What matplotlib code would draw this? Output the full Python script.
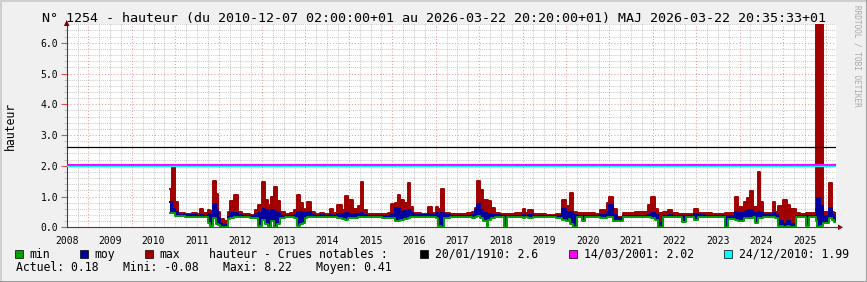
import numpy as np
import matplotlib
matplotlib.use('Agg')
import matplotlib.pyplot as plt
from matplotlib.patches import Rectangle, Polygon
from matplotlib.lines import Line2D
from matplotlib.ticker import MultipleLocator, FormatStrFormatter

# time as decimal years (start of each step), heights in m
t = [2010.89, 2010.93, 2011.00, 2011.07, 2011.23, 2011.39, 2011.51, 2011.58, 2011.65, 2011.76,
     2011.81, 2011.88, 2011.93, 2011.99, 2012.04, 2012.13, 2012.22, 2012.27, 2012.36, 2012.45,
     2012.54, 2012.73, 2012.84, 2012.91, 2013.00, 2013.07, 2013.14, 2013.21, 2013.28, 2013.35,
     2013.42, 2013.53, 2013.65, 2013.74, 2013.81, 2013.88, 2013.95, 2014.00, 2014.04, 2014.13,
     2014.23, 2014.34, 2014.43, 2014.57, 2014.64, 2014.73, 2014.85, 2014.92, 2014.99, 2015.10,
     2015.22, 2015.29, 2015.33, 2015.42, 2015.61, 2015.77, 2015.91, 2015.98, 2016.07, 2016.12,
     2016.18, 2016.28, 2016.35, 2016.41, 2016.48, 2016.65, 2016.83, 2016.92, 2017.01, 2017.06,
     2017.13, 2017.18, 2017.34, 2017.52, 2017.71, 2017.84, 2017.91, 2017.96, 2018.03, 2018.10,
     2018.17, 2018.21, 2018.28, 2018.37, 2018.49, 2018.58, 2018.65, 2018.83, 2019.00, 2019.06,
     2019.13, 2019.23, 2019.53, 2019.76, 2019.92, 2019.99, 2020.06, 2020.10, 2020.17, 2020.26,
     2020.38, 2020.45, 2020.68, 2020.79, 2020.95, 2021.00, 2021.09, 2021.18, 2021.32, 2021.60,
     2021.88, 2021.97, 2022.06, 2022.13, 2022.24, 2022.36, 2022.45, 2022.57, 2022.68, 2022.77,
     2022.94, 2023.05, 2023.21, 2023.37, 2023.67, 2023.74, 2023.90, 2023.97, 2024.09, 2024.18,
     2024.23, 2024.30, 2024.36, 2024.43, 2024.48, 2024.55, 2024.76, 2024.82, 2024.89, 2024.99,
     2025.08, 2025.17, 2025.29, 2025.40, 2025.52, 2025.59, 2025.75, 2025.79, 2025.86, 2025.91,
     2026.05, 2026.12, 2026.18]
h_min = [0.45, 0.45, 0.38, 0.36, 0.35, 0.35, 0.34, 0.33, 0.32, 0.15,
         0.03, 0.30, 0.10, 0.08, 0.02, 0.00, 0.28, 0.30, 0.32, 0.33,
         0.32, 0.31, 0.30, 0.05, 0.25, 0.10, 0.02, 0.20, 0.00, 0.10,
         0.30, 0.32, 0.33, 0.30, 0.05, 0.10, 0.15, 0.30, 0.32, 0.33,
         0.33, 0.34, 0.33, 0.32, 0.33, 0.30, 0.28, 0.25, 0.30, 0.30,
         0.32, 0.34, 0.34, 0.34, 0.33, 0.30, 0.31, 0.30, 0.22, 0.20,
         0.25, 0.28, 0.30, 0.32, 0.33, 0.34, 0.33, 0.33, 0.30, 0.05,
         0.00, 0.30, 0.33, 0.32, 0.32, 0.30, 0.35, 0.38, 0.30, 0.20,
         0.00, 0.25, 0.30, 0.33, 0.34, 0.00, 0.33, 0.32, 0.30, 0.32,
         0.31, 0.33, 0.32, 0.31, 0.25, 0.20, 0.28, 0.10, 0.00, 0.33,
         0.20, 0.33, 0.32, 0.30, 0.32, 0.35, 0.20, 0.22, 0.32, 0.33,
         0.32, 0.30, 0.25, 0.00, 0.32, 0.33, 0.33, 0.34, 0.18, 0.33,
         0.25, 0.33, 0.33, 0.32, 0.00, 0.28, 0.25, 0.20, 0.30, 0.30,
         0.30, 0.32, 0.15, 0.30, 0.30, 0.33, 0.32, 0.30, 0.05, 0.00,
         0.03, 0.00, 0.33, 0.32, 0.05, 0.33, 0.20, 0.00, 0.05, 0.15,
         0.30, 0.25, 0.18]
h_moy = [0.83, 0.60, 0.50, 0.40, 0.39, 0.40, 0.38, 0.40, 0.38, 0.42,
         0.40, 0.75, 0.55, 0.30, 0.12, 0.08, 0.35, 0.45, 0.48, 0.40,
         0.37, 0.36, 0.42, 0.45, 0.60, 0.55, 0.48, 0.55, 0.50, 0.45,
         0.38, 0.38, 0.38, 0.40, 0.50, 0.50, 0.45, 0.48, 0.50, 0.40,
         0.38, 0.40, 0.38, 0.39, 0.38, 0.42, 0.43, 0.45, 0.43, 0.42,
         0.42, 0.45, 0.40, 0.38, 0.38, 0.37, 0.38, 0.42, 0.62, 0.60,
         0.50, 0.52, 0.55, 0.45, 0.40, 0.39, 0.42, 0.40, 0.45, 0.40,
         0.45, 0.40, 0.38, 0.37, 0.38, 0.40, 0.55, 0.75, 0.55, 0.45,
         0.42, 0.43, 0.40, 0.39, 0.38, 0.38, 0.38, 0.37, 0.40, 0.38,
         0.40, 0.37, 0.36, 0.37, 0.60, 0.50, 0.45, 0.50, 0.40, 0.38,
         0.38, 0.38, 0.37, 0.40, 0.45, 0.72, 0.40, 0.30, 0.37, 0.38,
         0.40, 0.45, 0.40, 0.15, 0.38, 0.40, 0.38, 0.38, 0.37, 0.37,
         0.42, 0.40, 0.38, 0.37, 0.36, 0.38, 0.50, 0.45, 0.50, 0.52,
         0.55, 0.48, 0.45, 0.50, 0.45, 0.39, 0.45, 0.40, 0.22, 0.12,
         0.20, 0.10, 0.38, 0.37, 0.37, 0.38, 0.60, 0.95, 0.70, 0.38,
         0.62, 0.40, 0.30]
h_max = [1.24, 2.00, 0.82, 0.46, 0.43, 0.47, 0.43, 0.58, 0.45, 0.55,
         0.52, 1.50, 1.08, 0.50, 0.28, 0.22, 0.50, 0.85, 1.05, 0.50,
         0.42, 0.41, 0.55, 0.72, 1.47, 0.90, 0.72, 1.00, 1.30, 0.85,
         0.50, 0.44, 0.45, 0.55, 1.05, 0.80, 0.60, 0.55, 0.83, 0.50,
         0.44, 0.48, 0.43, 0.58, 0.45, 0.73, 0.56, 1.02, 0.88, 0.60,
         0.70, 1.48, 0.55, 0.44, 0.43, 0.42, 0.45, 0.75, 0.80, 1.05,
         0.89, 0.80, 1.43, 0.65, 0.48, 0.44, 0.67, 0.45, 0.67, 0.60,
         1.24, 0.48, 0.43, 0.42, 0.45, 0.50, 0.62, 1.50, 1.20, 0.90,
         0.89, 0.85, 0.62, 0.48, 0.44, 0.44, 0.44, 0.45, 0.58, 0.48,
         0.55, 0.42, 0.41, 0.42, 0.89, 0.70, 0.62, 1.10, 0.50, 0.46,
         0.45, 0.45, 0.43, 0.56, 0.78, 1.00, 0.60, 0.35, 0.48, 0.50,
         0.73, 0.97, 0.60, 0.45, 0.50, 0.56, 0.48, 0.43, 0.42, 0.42,
         0.58, 0.48, 0.46, 0.42, 0.48, 0.48, 0.97, 0.67, 0.83, 0.95,
         1.19, 0.67, 0.67, 1.79, 0.81, 0.48, 0.83, 0.50, 0.70, 0.89,
         0.73, 0.60, 0.45, 0.44, 0.45, 0.46, 8.22, 7.10, 6.80, 0.50,
         1.43, 0.51, 0.45]
t_end = 2026.22

years = list(range(2008, 2026))

crue_labels = ['20/01/1910: 2.6', '14/03/2001: 2.02', '24/12/2010: 1.99']
crue_values = [2.6, 2.02, 1.99]
crue_colors = ['#000000', '#FF00FF', '#00FFFF']

stats_text = ['Actuel: 0.18', 'Mini: -0.08', 'Maxi: 8.22', 'Moyen: 0.41']

GREEN = '#00A000'
BLUE = '#0000A0'
RED = '#A00000'

W, H = 867, 282


def fx(x):
    return x / W


def fy(y):
    return 1 - y / H


plt.rcParams['font.family'] = 'DejaVu Sans Mono'

fig = plt.figure(figsize=(W / 100, H / 100), dpi=100)
fig.set_facecolor('#F0F0F0')

ax = fig.add_axes([fx(66.7), fy(227.3), (836 - 66.7) / W, (227.3 - 24.3) / H])
ax.set_facecolor('white')

# grid: red on years, grey dotted on quarters
for y in years + [2026]:
    ax.axvline(y, color='#DE5050', alpha=0.55, lw=0.75, ls=(0, (1, 2)), zorder=1)
    for q in (0.25, 0.5, 0.75):
        ax.axvline(y + q, color='#8F8F8F', alpha=0.45, lw=0.75, ls=(0, (1, 1)), zorder=0.5)

ax.yaxis.set_major_locator(MultipleLocator(1.0))
ax.yaxis.set_minor_locator(MultipleLocator(0.2))
ax.grid(axis='y', which='major', color='#DE5050', alpha=0.55, lw=0.75, ls=(0, (1, 2)), zorder=1)
ax.grid(axis='y', which='minor', color='#8F8F8F', alpha=0.45, lw=0.75, ls=(0, (1, 1)), zorder=0.5)
ax.set_axisbelow(True)

tt = t + [t_end]
mn = h_min + [h_min[-1]]
mo = h_moy + [h_moy[-1]]
mx = h_max + [h_max[-1]]

ax.fill_between(tt, mo, mx, step='post', color=RED, lw=0, zorder=2)
ax.step(tt, mx, where='post', color=RED, lw=1.4, zorder=2)
ax.fill_between(tt, mn, mo, step='post', color=BLUE, lw=0, zorder=3)
ax.step(tt, mo, where='post', color=BLUE, lw=1.4, zorder=3)
ax.step(tt, mn, where='post', color=GREEN, lw=1.4, zorder=4)

# crues notables
widths = [0.9, 1.5, 0.9]
for v, c, w in zip(crue_values, crue_colors, widths):
    ax.axhline(v, color=c, lw=w, zorder=5)

ax.set_xlim(2008.5, t_end)
ax.set_ylim(0, 6.6)

ax.set_xticks([y + 0.5 for y in years])
ax.set_xticklabels([str(y) for y in years])
ax.yaxis.set_major_formatter(FormatStrFormatter('%.1f'))
ax.tick_params(axis='x', length=0, labelsize=7, pad=6)
ax.tick_params(axis='y', which='major', length=4, color='#DE5050', labelsize=7, pad=2)
ax.tick_params(axis='y', which='minor', length=2, color='#BBBBBB')

for s in ('top', 'right'):
    ax.spines[s].set_visible(False)
for s in ('left', 'bottom'):
    ax.spines[s].set_color('#404040')
    ax.spines[s].set_linewidth(0.8)

# axis arrows
fig.add_artist(Line2D([fx(836), fx(840)], [fy(227.3), fy(227.3)], color='#404040', lw=0.8))
fig.add_artist(Polygon([(fx(838), fy(224.5)), (fx(843), fy(227.3)), (fx(838), fy(230.1))],
                       closed=True, color='#7F0000', lw=0))
fig.add_artist(Polygon([(fx(63.9), fy(26)), (fx(66.7), fy(20)), (fx(69.5), fy(26))],
                       closed=True, color='#7F0000', lw=0))

fig.text(fx(10), fy(126), 'hauteur', rotation=90, ha='center', va='center', fontsize=8.3)

fig.text(0.5, fy(18.5), 'N° 1254 - hauteur (du 2010-12-07 02:00:00+01 au 2026-03-22 20:20:00+01) '
         'MAJ 2026-03-22 20:35:33+01', ha='center', va='center', fontsize=9.6)
fig.text(fx(857), fy(5), 'RRDTOOL / TOBI OETIKER', rotation=270, ha='center', va='top',
         fontsize=5.6, color='#A8A8A8')

# legend row 1
row1 = 254.3
legend_items = [(15, GREEN, 'min'), (80, BLUE, 'moy'), (145, RED, 'max')]
for x0, c, lab in legend_items:
    fig.add_artist(Rectangle((fx(x0), fy(row1 + 4)), 8 / W, 8 / H, facecolor=c,
                             edgecolor='#000000', lw=0.5))
    fig.text(fx(x0 + 14.5), fy(row1), lab, ha='left', va='center', fontsize=8.3)
fig.text(fx(209.3), fy(row1), 'hauteur - Crues notables :', ha='left', va='center', fontsize=8.3)
for x0, c, lab in zip([420, 569, 724], crue_colors, crue_labels):
    fig.add_artist(Rectangle((fx(x0), fy(row1 + 4)), 8 / W, 8 / H, facecolor=c,
                             edgecolor='#000000', lw=0.5))
    fig.text(fx(x0 + 15), fy(row1), lab, ha='left', va='center', fontsize=8.3)

# legend row 2
for x0, s in zip([16, 122.7, 222.7, 316], stats_text):
    fig.text(fx(x0), fy(267.7), s, ha='left', va='center', fontsize=8.3)

# shaded frame
fig.add_artist(Line2D([0, 1], [fy(0.5), fy(0.5)], color='#CFCFCF', lw=1.5))
fig.add_artist(Line2D([fx(0.5), fx(0.5)], [0, 1], color='#CFCFCF', lw=1.5))
fig.add_artist(Line2D([0, 1], [fy(281.5), fy(281.5)], color='#9E9E9E', lw=1.5))
fig.add_artist(Line2D([fx(866.5), fx(866.5)], [0, 1], color='#9E9E9E', lw=1.5))

fig.savefig('out.png', dpi=100, facecolor=fig.get_facecolor())
